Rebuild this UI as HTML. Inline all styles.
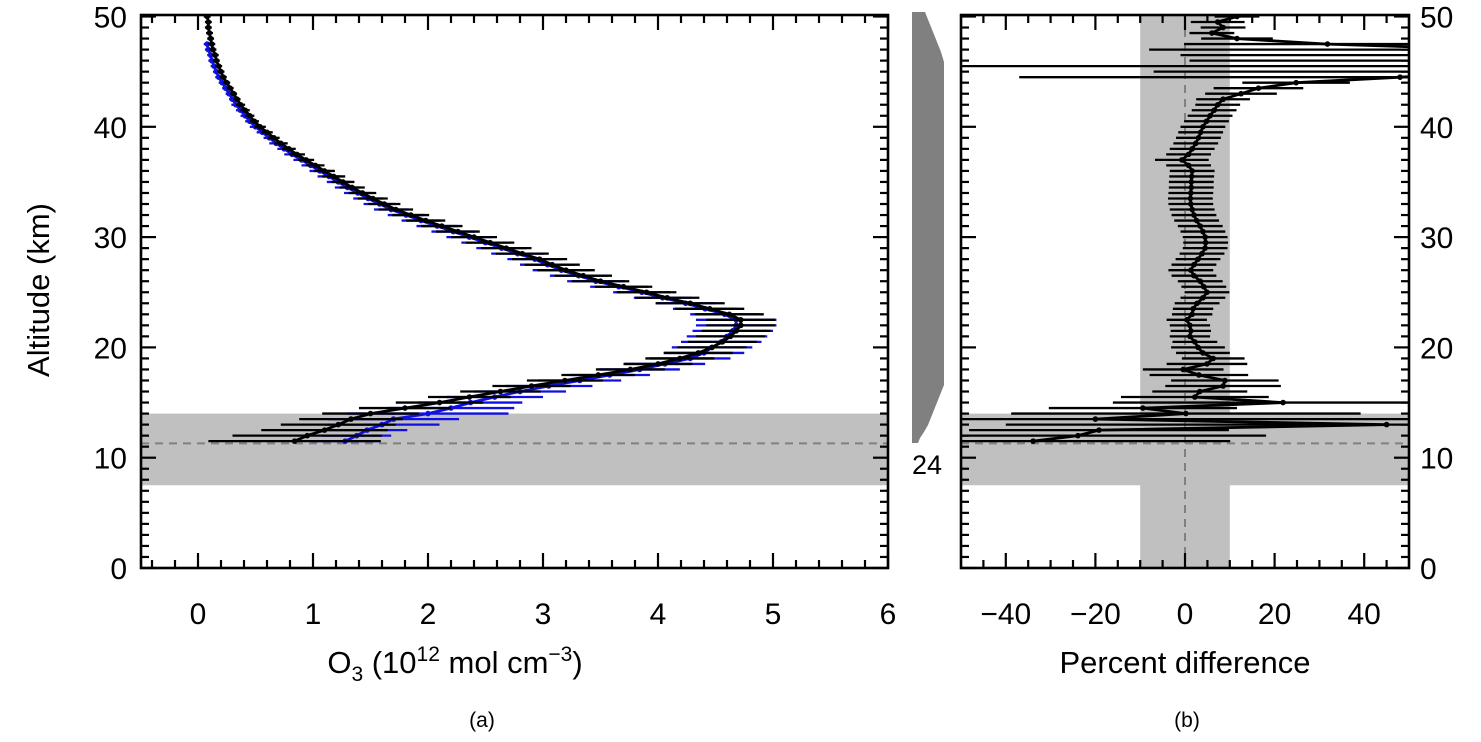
<!DOCTYPE html>
<html><head><meta charset="utf-8"><style>
html,body{margin:0;padding:0;background:#fff;}
svg{display:block;font-family:"Liberation Sans",sans-serif;}
</style></head><body>
<svg id="chart" width="1481" height="742" viewBox="0 0 1481 742" xmlns="http://www.w3.org/2000/svg">
<defs>
<clipPath id="clipA"><rect x="141" y="15" width="747" height="553"/></clipPath>
<clipPath id="clipB"><rect x="961" y="15" width="448" height="553"/></clipPath>
</defs>
<g id="layer"></g>
</svg>
<script>
// ---- data (altitude km) ----
const altA = [11.5,12,12.5,13,13.5,14,14.5,15,15.5,16,16.5,17,17.5,18,18.5,19,19.5,20,20.5,21,21.5,22,22.5,23,23.5,24,24.5,25,25.5,26,26.5,27,27.5,28,28.5,29,29.5,30,30.5,31,31.5,32,32.5,33,33.5,34,34.5,35,35.5,36,36.5,37,37.5,38,38.5,39,39.5,40,40.5,41,41.5,42,42.5,43,43.5,44,44.5,45,45.5,46,46.5,47,47.5,48,48.5,49,49.5,50];
const o3Black = [0.84,0.95,1.1,1.22,1.33,1.5,1.8,2.1,2.36,2.63,2.9,3.19,3.48,3.76,4.0,4.19,4.35,4.47,4.56,4.63,4.68,4.72,4.72,4.62,4.45,4.28,4.08,3.9,3.7,3.5,3.35,3.2,3.08,2.97,2.82,2.68,2.54,2.4,2.26,2.12,1.98,1.85,1.72,1.62,1.52,1.43,1.34,1.26,1.18,1.1,1.02,0.94,0.86,0.79,0.72,0.66,0.6,0.54,0.49,0.45,0.41,0.37,0.34,0.31,0.28,0.25,0.22,0.2,0.18,0.16,0.15,0.13,0.12,0.11,0.1,0.09,0.09,0.08];
const o3BlackErr = [0.75,0.65,0.55,0.5,0.45,0.42,0.4,0.38,0.36,0.35,0.34,0.33,0.32,0.3,0.3,0.3,0.3,0.3,0.3,0.3,0.3,0.3,0.3,0.3,0.3,0.3,0.28,0.26,0.25,0.25,0.25,0.25,0.24,0.24,0.23,0.22,0.21,0.2,0.19,0.18,0.17,0.16,0.15,0.14,0.13,0.12,0.11,0.1,0.1,0.09,0.08,0.07,0.07,0.06,0.06,0.05,0.05,0.05,0.04,0.04,0.04,0.04,0.03,0.03,0.03,0.03,0.03,0.03,0.03,0.03,0.03,0.03,0.03,0.03,0.03,0.03,0.03,0.03];
const altBlue = [11.5,12,12.5,13,13.5,14,14.5,15,15.5,16,16.5,17,17.5,18,18.5,19,19.5,20,20.5,21,21.5,22,22.5,23,23.5,24,24.5,25,25.5,26,26.5,27,27.5,28,28.5,29,29.5,30,30.5,31,31.5,32,32.5,33,33.5,34,34.5,35,35.5,36,36.5,37,37.5,38,38.5,39,39.5,40,40.5,41,41.5,42,42.5,43,43.5,44,44.5,45,45.5,46,46.5,47,47.5];
const o3Blue = [1.28,1.38,1.47,1.6,1.7,2.0,2.2,2.37,2.58,2.8,3.05,3.32,3.58,3.84,4.06,4.28,4.4,4.47,4.55,4.6,4.65,4.68,4.68,4.58,4.41,4.24,4.04,3.86,3.66,3.46,3.31,3.16,3.04,2.93,2.78,2.64,2.5,2.36,2.22,2.08,1.94,1.81,1.68,1.58,1.48,1.39,1.3,1.22,1.14,1.06,0.98,0.9,0.82,0.75,0.68,0.62,0.56,0.5,0.45,0.41,0.37,0.33,0.3,0.27,0.24,0.21,0.18,0.16,0.14,0.12,0.11,0.09,0.08];
const o3BlueErr = [0.3,0.3,0.35,0.5,0.57,0.7,0.55,0.45,0.42,0.4,0.38,0.36,0.35,0.35,0.35,0.35,0.35,0.35,0.35,0.35,0.35,0.35,0.35,0.3,0.28,0.26,0.25,0.25,0.25,0.25,0.25,0.25,0.24,0.24,0.23,0.22,0.21,0.2,0.19,0.18,0.17,0.16,0.15,0.14,0.13,0.12,0.11,0.1,0.1,0.09,0.08,0.07,0.07,0.06,0.06,0.05,0.05,0.05,0.04,0.04,0.04,0.04,0.03,0.03,0.03,0.03,0.03,0.03,0.03,0.03,0.03,0.03,0.03];
const pctDiff = [-33.9,-23.9,-19.2,45,-20,0.2,-9.4,21.9,2.2,3.3,8.5,8.9,3.1,-0.4,4.9,6.3,4.0,2.9,2.2,1.1,1.3,1.1,0.4,1.6,1.8,2.7,4.0,4.9,4.2,3.4,2.0,1.3,2.0,2.9,3.8,4.5,4.6,4.5,4.0,3.4,2.6,2.0,1.6,1.3,1.2,1.3,1.4,1.4,1.5,1.6,0.8,-0.7,0.8,1.6,2.4,3.0,3.5,4.0,4.8,5.6,6.5,7.3,8.5,12.5,16.4,24.8,48,70,70,70,70,70,31.8,11.6,6.0,8.5,7.3,11.6];
const pctErr = [44,42,29,85,70,39,21,38,16.5,10.6,12.9,12,11,9,9,7,6,6,5,4.5,4.5,4.5,4.5,4.5,4.5,5,5,5,5,5,5,5,5,5,5,5,5,5,5,5,5,5,5,5,5,5,5,5,5,5,5,6,5,5,5,5,5,5,5,5,5,5,6,8,10,12,85,77,120,69,71,78,32,8,5,5,6,5];
const ticksA = [0,1,2,3,4,5,6];
const ticksB = [-40,-20,0,20,40];
const ticksY = [0,10,20,30,40,50];

// ---- axes ----
const Y0=568, PXKM=11.03;
const yS = a => Y0 - a*PXKM;
const xA = v => 198 + v*115;
const xB = v => 1185 + v*4.48;
const NS="http://www.w3.org/2000/svg";
const layer=document.getElementById('layer');
function mk(tag, attrs, parent){const e=document.createElementNS(NS,tag);for(const k in attrs)e.setAttribute(k,attrs[k]);(parent||layer).appendChild(e);return e;}

const bandA=mk('rect',{x:141,y:yS(14),width:747,height:yS(7.5)-yS(14),fill:'#c0c0c0'});


const dashA=mk('line',{x1:141,x2:888,y1:yS(11.3),y2:yS(11.3),stroke:'#808080','stroke-width':2,'stroke-dasharray':'8,6'});



const bandBh=mk('rect',{x:961,y:yS(14),width:448,height:yS(7.5)-yS(14),fill:'#c0c0c0'});


const bandBv=mk('rect',{x:xB(-10),y:15,width:xB(10)-xB(-10),height:553,fill:'#c0c0c0'});


const dashB=mk('line',{x1:961,x2:1409,y1:yS(11.3),y2:yS(11.3),stroke:'#808080','stroke-width':2,'stroke-dasharray':'8,6'});


const zeroB=mk('line',{x1:xB(0),x2:xB(0),y1:15,y2:568,stroke:'#808080','stroke-width':2,'stroke-dasharray':'8,6'});



const hist=mk('polygon',{points:'912,12 925,12 929,22 933,32 937,42 941,52 944,62 944,385 940,395 936,405 932,415 928,425 924,432 920,438 918,443 912,443',fill:'#808080'});


const cnt=mk('text',{x:927,y:474,'font-size':27,'text-anchor':'middle',fill:'#000'});cnt.textContent='24';



function series(alts, vals, errs, xf, color, clip, name){
  const g=mk('g',{'clip-path':'url(#'+clip+')'});
  
  
  for(let i=0;i<alts.length;i++){
    const y=yS(alts[i]);
    const b=mk('line',{x1:xf(vals[i]-errs[i]),x2:xf(vals[i]+errs[i]),y1:y,y2:y,stroke:color,'stroke-width':2.3},g);
    
    
  }
  const pts=alts.map((a,i)=>xf(vals[i]).toFixed(1)+','+yS(a).toFixed(1)).join(' ');
  const pl=mk('polyline',{points:pts,fill:'none',stroke:color,'stroke-width':2.8},g);
  
  
  for(let i=0;i<alts.length;i++){
    const c=mk('circle',{cx:xf(vals[i]),cy:yS(alts[i]),r:2.8,fill:color},g);
    
    
  }
}
series(altBlue,o3Blue,o3BlueErr,xA,'#1010e0','clipA','blue-profile');
series(altA,o3Black,o3BlackErr,xA,'#000','clipA','black-profile');
series(altA,pctDiff,pctErr,xB,'#000','clipB','percent-difference-profile');

function frame(x0,x1,name){
  const r=mk('rect',{x:x0,y:15,width:x1-x0,height:553,fill:'none',stroke:'#000','stroke-width':2.6});
  
  
  for(let a=0;a<=50;a++){
    const L=(a%10===0)?15:8, y=yS(a);
    mk('line',{x1:x0,x2:x0+L,y1:y,y2:y,stroke:'#000','stroke-width':2.2});
    mk('line',{x1:x1,x2:x1-L,y1:y,y2:y,stroke:'#000','stroke-width':2.2});
  }
}
frame(141,888,'panel-a-frame');
frame(961,1409,'panel-b-frame');
for(let v=-0.4;v<=6.001;v+=0.2){
  const major=Math.abs(v-Math.round(v))<0.01, L=major?15:8, x=xA(v);
  mk('line',{x1:x,x2:x,y1:568,y2:568-L,stroke:'#000','stroke-width':2.2});
  mk('line',{x1:x,x2:x,y1:15,y2:15+L,stroke:'#000','stroke-width':2.2});
}
for(let v=-45;v<=45;v+=5){
  const L=(v%20===0)?15:8, x=xB(v);
  mk('line',{x1:x,x2:x,y1:568,y2:568-L,stroke:'#000','stroke-width':2.2});
  mk('line',{x1:x,x2:x,y1:15,y2:15+L,stroke:'#000','stroke-width':2.2});
}
ticksA.forEach(v=>{const t=mk('text',{x:xA(v),y:624,'font-size':30,'text-anchor':'middle'});t.textContent=v;
  
  });
ticksB.forEach(v=>{const t=mk('text',{x:xB(v),y:624,'font-size':30,'text-anchor':'middle'});t.textContent=(v<0?'\u2212':'')+Math.abs(v);
  
  });
ticksY.forEach(v=>{
  const t=mk('text',{x:127,y:yS(v)+11,'font-size':30,'text-anchor':'end'});t.textContent=v;
  
  
  const t2=mk('text',{x:1420,y:yS(v)+11,'font-size':30,'text-anchor':'start'});t2.textContent=v;
  
  
});
</script>
<svg style="position:absolute;left:0;top:0" width="1481" height="742" xmlns="http://www.w3.org/2000/svg">
<text x="0" y="0" font-size="31" text-anchor="middle" transform="translate(49,290) rotate(-90)">Altitude (km)</text>
<text x="455" y="673" font-size="31" text-anchor="middle">O<tspan font-size="21" dy="8">3</tspan><tspan dy="-8"> (10</tspan><tspan font-size="21" dy="-12">12</tspan><tspan dy="12"> mol cm</tspan><tspan font-size="21" dy="-12">−3</tspan><tspan dy="12">)</tspan></text>
<text x="1185" y="673" font-size="31" text-anchor="middle">Percent difference</text>
<text x="482" y="727" font-size="21" text-anchor="middle">(a)</text>
<text x="1187" y="727" font-size="21" text-anchor="middle">(b)</text>
</svg>
</body></html>
